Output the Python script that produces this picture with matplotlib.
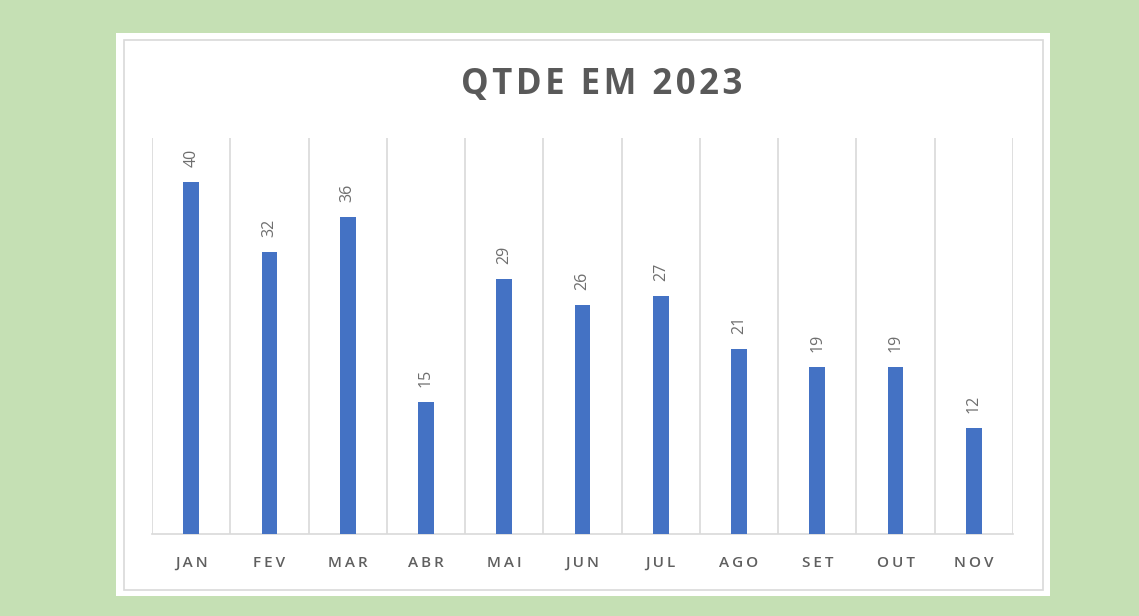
import matplotlib
matplotlib.use("Agg")
import matplotlib.pyplot as plt
from matplotlib.patches import Rectangle

months = ["JAN", "FEV", "MAR", "ABR", "MAI", "JUN", "JUL", "AGO", "SET", "OUT", "NOV"]
values = [40, 32, 36, 15, 29, 26, 27, 21, 19, 19, 12]
title = "QTDE EM 2023"

W, H = 1139, 616
fig = plt.figure(figsize=(W / 100, H / 100), dpi=100)
fig.patch.set_facecolor("#C5E0B4")

# white panel and inner border
fig.patches.append(Rectangle((116 / W, 1 - 596 / H), (1050 - 116) / W, (596 - 33) / H,
                             transform=fig.transFigure, facecolor="white", edgecolor="none", zorder=0))
fig.patches.append(Rectangle((124 / W, 1 - 590 / H), (1043 - 124) / W, (590 - 40) / H,
                             transform=fig.transFigure, facecolor="none", edgecolor="#D9D9D9",
                             linewidth=1.2, zorder=1))

ax = fig.add_axes([152 / W, 1 - 534 / H, (1013 - 152) / W, (534 - 138) / H])
ax.set_zorder(5)
ax.set_facecolor("none")
x = list(range(len(months)))
ax.bar(x, values, width=0.2, color="#4472C4", zorder=3)
ax.set_xlim(-0.5, len(months) - 0.5)
ax.set_ylim(0, 45)

for xi, v in zip(x, values):
    ax.annotate(str(v), (xi, v), xytext=(0, 11), textcoords="offset points",
                rotation=90, ha="center", va="bottom", fontsize=11.5,
                color="#6E6E6E", family=["Open Sans", "DejaVu Sans"])

ax.set_xticks(x)
ax.set_xticklabels(["\u2009".join(m) for m in months], fontsize=11, color="#5F5F5F",
                   fontweight="semibold", family=["Open Sans", "DejaVu Sans"])
ax.tick_params(axis="x", length=0, pad=16)
ax.set_xticks([i - 0.5 for i in range(len(months) + 1)], minor=True)
ax.tick_params(axis="x", which="minor", length=0)
ax.grid(True, which="minor", axis="x", color="#D9D9D9", linewidth=1.2, zorder=0)
ax.set_yticks([])
for s in ["top", "left", "right"]:
    ax.spines[s].set_visible(False)
ax.spines["bottom"].set_color("#D9D9D9")
ax.spines["bottom"].set_linewidth(1.2)

fig.text(602 / W, 1 - 85 / H, "\u200a".join(title), ha="center", va="center", fontsize=25,
         fontweight="bold", color="#595959", family=["Open Sans", "DejaVu Sans"], zorder=6)

fig.savefig("out.png", dpi=100, facecolor=fig.get_facecolor())
